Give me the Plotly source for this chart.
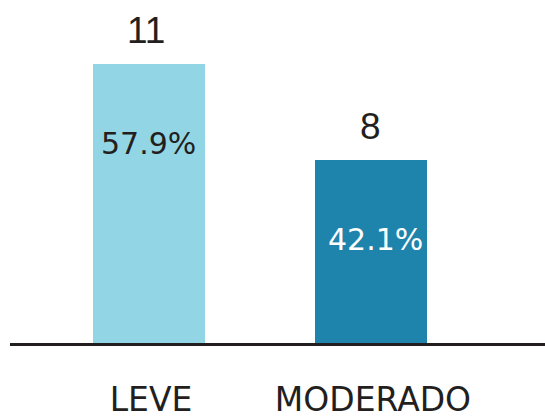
import plotly.graph_objects as go

categories = ["LEVE", "MODERADO"]
counts = [11, 8]
percent_labels = ["57.9%", "42.1%"]
bar_colors = ["#92d6e6", "#1e84ac"]
pct_colors = ["#231f20", "#ffffff"]

fig = go.Figure()
fig.add_trace(go.Bar(
    x=[0, 1], y=counts, width=0.505,
    marker=dict(color=bar_colors, line=dict(width=0)),
    hoverinfo="skip",
))

for i, (c, p) in enumerate(zip(counts, percent_labels)):
    fig.add_annotation(x=i, y=c, text=str(c), showarrow=False, yanchor="middle",
                       yshift=33, xshift=-3 if i == 0 else 0,
                       font=dict(family="Liberation Sans", size=37, color="#231f20"))
    fig.add_annotation(x=i, y=c - 2.5, text=p, showarrow=False, yanchor="middle",
                       xshift=5 if i else 0,
                       font=dict(family="DejaVu Sans", size=30, color=pct_colors[i]))

fig.update_layout(
    width=545, height=418,
    margin=dict(l=10, r=0, t=0, b=75, autoexpand=False),
    paper_bgcolor="white", plot_bgcolor="white",
    showlegend=False,
    bargap=0,
)
fig.update_xaxes(range=[-0.626, 1.784], tickvals=[0, 1], ticktext=categories,
                 showgrid=False, zeroline=False, showline=True, linewidth=3,
                 linecolor="#231f20", ticks="", ticklabelstandoff=25, automargin=False,
                 ticklabelshift=2,
                 tickfont=dict(family="DejaVu Sans", size=33, color="#231f20"))
fig.update_yaxes(range=[2.28, 13.0], visible=False, showgrid=False, automargin=False)

fig.write_html("out.html", config={"displayModeBar": False},
               post_script="document.body.style.margin='0';")
